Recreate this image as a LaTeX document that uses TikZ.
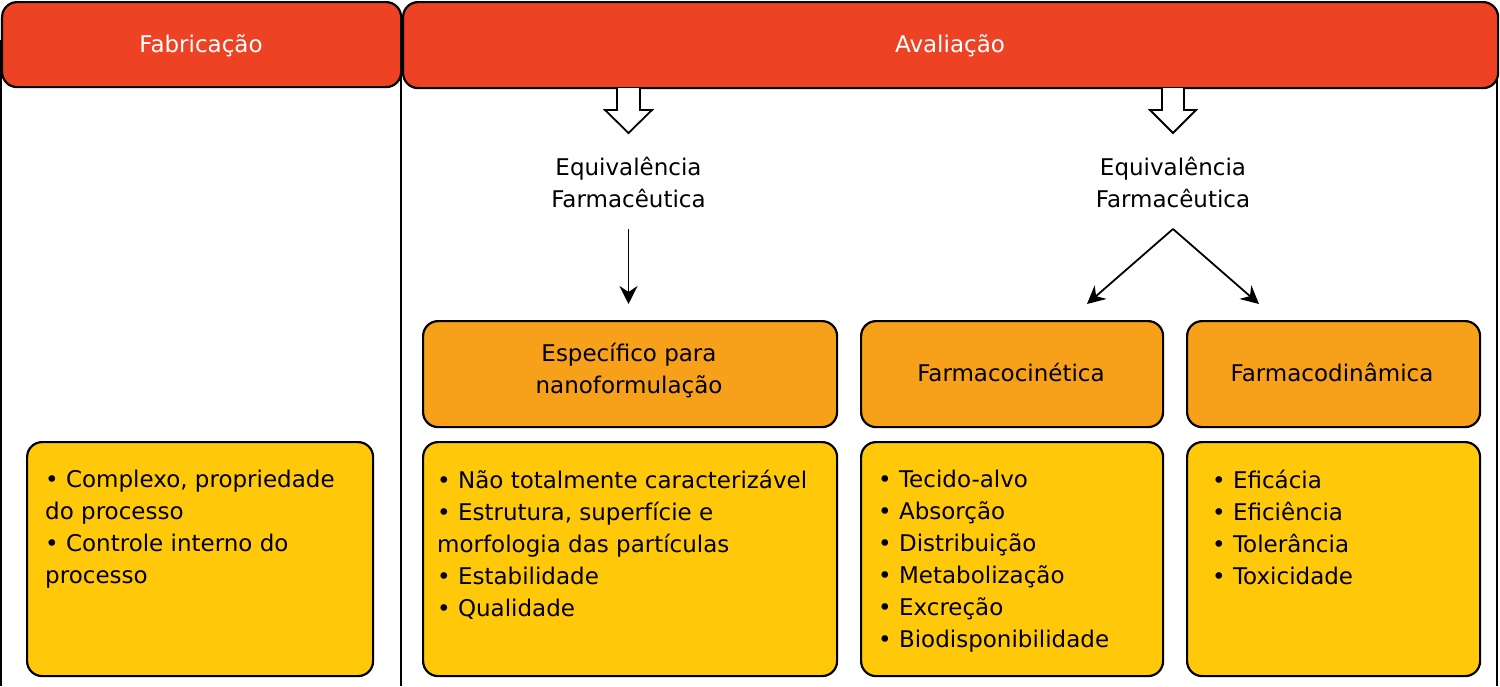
\documentclass[tikz,border=0pt]{standalone}
\usepackage{fontspec}
\setmainfont{DejaVu Sans}
\usetikzlibrary{arrows.meta}
\definecolor{hdr}{HTML}{EE4224}
\definecolor{orng}{HTML}{F7A11B}
\definecolor{yell}{HTML}{FFC90A}
\newcommand{\dfont}{\fontsize{23}{32}\selectfont}
\tikzset{
  hdrbox/.style={draw=black, line width=2.2pt, fill=hdr, rounded corners=15pt, anchor=north west, inner sep=0pt},
  hdrtxt/.style={text=white, inner sep=0pt, font=\dfont},
  topbox/.style={draw=black, line width=2.2pt, fill=orng, rounded corners=15pt, anchor=north west, inner sep=0pt},
  listbox/.style={draw=black, line width=2.2pt, fill=yell, rounded corners=15pt, anchor=north west, inner sep=0pt},
  listtxt/.style={anchor=north west, inner sep=0pt, align=left, font=\dfont},
  eqtxt/.style={align=center, inner sep=0pt, font=\dfont},
  frame/.style={draw=black, line width=1.6pt},
  arr/.style={draw=black, line width=1.8pt, -{Stealth[length=18pt, width=18pt, inset=6pt]}},
  hollow/.style={draw=black, line width=1.8pt, fill=white, line join=miter}
}
\begin{document}
\begin{tikzpicture}[x=1pt,y=-1pt]
\useasboundingbox (0,0) rectangle (1500,686);
\fill[white] (0,0) rectangle (1500,686);

% frame lines
\coordinate (fl) at (1,686);
\coordinate (fd) at (401,686);
\coordinate (fr) at (1497,686);
\coordinate (tl) at (1,40);
\coordinate (td) at (401,40);
\coordinate (tr) at (1497,40);
\draw[frame] (tl) -- (fl);
\draw[frame] (td) -- (fd);
\draw[frame] (tr) -- (fr);

% headers
\node[hdrbox, minimum width=399pt, minimum height=85pt] (fab) at (1,1) {};
\node[hdrtxt] (fabt) at (201,46) {Fabricação};
\node[hdrbox, minimum width=1095pt, minimum height=86pt] (ava) at (402,1) {};
\node[hdrtxt] (avat) at (950,46) {Avaliação};

% hollow arrows
\draw[hollow] (617,88) -- (617,110) -- (605,110) -- (628.5,133) -- (652,110) -- (640,110) -- (640,88);
\draw[hollow] (1162,88) -- (1162,110) -- (1150,110) -- (1173,133) -- (1196,110) -- (1184,110) -- (1184,88);

% equivalence texts
\node[eqtxt] (eq1) at (628.5,182) {Equivalência\\Farmacêutica};
\node[eqtxt] (eq2) at (1173,182) {Equivalência\\Farmacêutica};

\coordinate (eq1s) at (628.5,229);
\coordinate (eq2s) at (1173,229);

% orange boxes
\node[topbox, minimum width=414pt, minimum height=106pt] (nano) at (422,320) {};
\node[eqtxt] (nanot) at (629,371) {Específico para\\nanoformulação};
\node[topbox, minimum width=302pt, minimum height=106pt] (cin) at (860,320) {};
\node[eqtxt] (cint) at (1011,372) {Farmacocinética};
\node[topbox, minimum width=293pt, minimum height=106pt] (din) at (1186,320) {};
\node[eqtxt] (dint) at (1332,372) {Farmacodinâmica};

% connectors
\coordinate (nanoin) at (628.5,304);
\coordinate (cinin) at (1087,304);
\coordinate (dinin) at (1259,304);
\draw[arr] (eq1s) -- (nanoin);
\draw[arr] (eq2s) -- (cinin);
\draw[arr] (eq2s) -- (dinin);

% yellow boxes
\node[listbox, minimum width=346pt, minimum height=234pt] (l0) at (26,441) {};
\node[listbox, minimum width=414pt, minimum height=234pt] (l1) at (422,441) {};
\node[listbox, minimum width=302pt, minimum height=234pt] (l2) at (860,441) {};
\node[listbox, minimum width=293pt, minimum height=234pt] (l3) at (1186,441) {};

\node[listtxt] (t0) at (45,470) {• Complexo, propriedade\\do processo\\• Controle interno do\\processo};
\node[listtxt] (t1) at (437,470) {• Não totalmente caracterizável\\• Estrutura, superfície e\\morfologia das partículas\\• Estabilidade\\• Qualidade};
\node[listtxt] (t2) at (878,470) {• Tecido-alvo\\• Absorção\\• Distribuição\\• Metabolização\\• Excreção\\• Biodisponibilidade};
\node[listtxt] (t3) at (1212,470) {• Eficácia\\• Eficiência\\• Tolerância\\• Toxicidade};
\end{tikzpicture}
\end{document}
